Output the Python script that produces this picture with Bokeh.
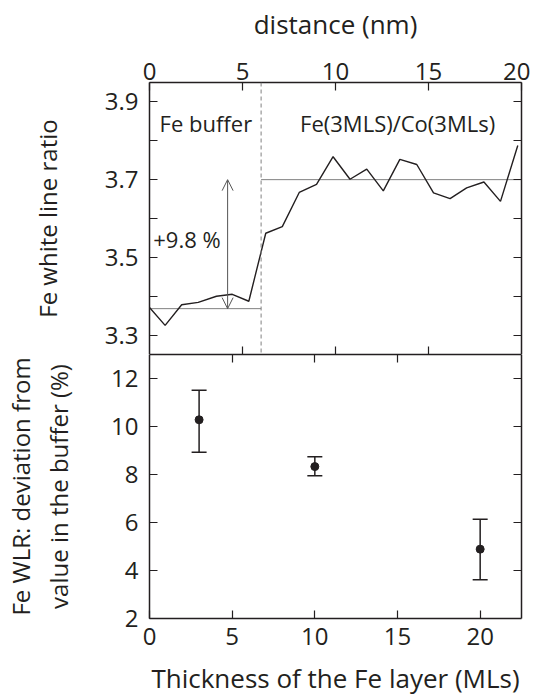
from bokeh.plotting import figure
from bokeh.models import (LinearAxis, Range1d, FixedTicker, Span, Arrow, OpenHead,
                          Label, Whisker, ColumnDataSource, TeeHead)
from bokeh.layouts import column
from bokeh.embed import file_html
from bokeh.resources import INLINE

# ---------------- data ----------------
distance_nm = [0.0, 0.84, 1.73, 2.62, 3.6, 4.45, 5.34, 6.25, 7.14, 8.05, 8.98, 9.87,
               10.78, 11.68, 12.57, 13.46, 14.37, 15.27, 16.16, 17.05, 17.98, 18.87, 19.8]
white_line_ratio = [3.371, 3.325, 3.378, 3.384, 3.400, 3.405, 3.387, 3.562, 3.579, 3.667,
                    3.688, 3.759, 3.701, 3.727, 3.671, 3.752, 3.739, 3.666, 3.651, 3.679,
                    3.694, 3.644, 3.788]
interface_nm = 6.0
buffer_level = 3.368
film_level = 3.70
arrow_x = 4.2

thickness_ml = [3, 10, 20]
deviation_pct = [10.28, 8.33, 4.89]
deviation_low = [8.93, 7.95, 3.61]
deviation_high = [11.51, 8.74, 6.14]

top_x_ticks = [0, 5, 10, 15, 20]
top_y_ticks = [3.3, 3.5, 3.7, 3.9]
top_y_minor = [3.4, 3.6, 3.8]
bot_x_ticks = [0, 5, 10, 15, 20]
bot_y_ticks = [2, 4, 6, 8, 10, 12]

FONT = "Open Sans"
INK = "#231f20"
GREY = "#808080"
TICK_FS = "24px"
TITLE_FS = "26px"
YTITLE_FS = "24px"


def style_axis(ax):
    ax.axis_line_color = INK
    ax.axis_line_width = 1.5
    ax.major_tick_line_color = INK
    ax.major_tick_line_width = 1.2
    ax.minor_tick_line_color = INK
    ax.minor_tick_line_width = 1.2
    ax.major_tick_in = 8
    ax.major_tick_out = 0
    ax.minor_tick_in = 8
    ax.minor_tick_out = 0
    ax.major_label_text_font = FONT
    ax.major_label_text_color = INK
    ax.major_label_text_font_style = "normal"
    ax.major_label_text_font_size = TICK_FS
    ax.axis_label_text_font = FONT
    ax.axis_label_text_color = INK
    ax.axis_label_text_font_style = "normal"
    ax.axis_label_text_font_size = TITLE_FS


def tick_only_axis(ticks):
    # only minor ticks -> tick marks without any tick labels
    ax = LinearAxis(ticker=FixedTicker(ticks=[], minor_ticks=ticks))
    style_axis(ax)
    ax.major_label_standoff = 0
    return ax


# ---------------- top panel ----------------
p1 = figure(frame_width=372, frame_height=272,
            x_range=Range1d(0, 20), y_range=Range1d(3.25, 3.95),
            x_axis_location="above", output_backend="svg", toolbar_location=None,
            min_border_left=143, min_border_right=15, min_border_top=82, min_border_bottom=0)
p1.grid.visible = False
p1.outline_line_color = None

xa = p1.xaxis[0]
style_axis(xa)
xa.ticker = FixedTicker(ticks=top_x_ticks, minor_ticks=[])
xa.axis_label = "distance (nm)"
xa.major_label_standoff = 3
xa.axis_label_standoff = 18

ya = p1.yaxis[0]
style_axis(ya)
ya.ticker = FixedTicker(ticks=top_y_ticks, minor_ticks=top_y_minor)
ya.axis_label = "Fe white line ratio"
ya.axis_label_text_font_size = YTITLE_FS
ya.major_label_standoff = 11
ya.axis_label_standoff = 38

p1.add_layout(tick_only_axis([5, 10, 15]), "below")
p1.add_layout(tick_only_axis(top_y_ticks + top_y_minor), "right")

p1.add_layout(Span(location=interface_nm, dimension="height", line_color=GREY,
                   line_width=1, line_dash="4 3"))
p1.segment(x0=[0, interface_nm], y0=[buffer_level, film_level],
           x1=[interface_nm, 20], y1=[buffer_level, film_level],
           line_color=GREY, line_width=1)
p1.line(distance_nm, white_line_ratio, line_color=INK, line_width=1.4)
p1.add_layout(Arrow(x_start=arrow_x, y_start=buffer_level, x_end=arrow_x, y_end=film_level,
                    line_color="#555555", line_width=1,
                    start=OpenHead(size=11, line_color="#555555", line_width=1),
                    end=OpenHead(size=11, line_color="#555555", line_width=1)))

for txt, x, y, align in [("Fe buffer", 3.03, 3.845, "center"),
                         ("Fe(3MLS)/Co(3MLs)", 13.34, 3.845, "center"),
                         ("+9.8 %", 0.2, 3.546, "left")]:
    p1.add_layout(Label(x=x, y=y, text=txt, text_align=align, text_baseline="middle",
                        text_font=FONT, text_font_size="22px", text_color=INK))

# ---------------- bottom panel ----------------
p2 = figure(frame_width=372, frame_height=264,
            x_range=Range1d(0, 22.5), y_range=Range1d(2, 13),
            output_backend="svg", toolbar_location=None,
            min_border_left=143, min_border_right=15, min_border_top=0, min_border_bottom=72)
p2.grid.visible = False
p2.outline_line_color = None

xa2 = p2.xaxis[0]
style_axis(xa2)
xa2.ticker = FixedTicker(ticks=bot_x_ticks, minor_ticks=[])
xa2.axis_label = "Thickness of the Fe layer (MLs)"
xa2.major_label_standoff = 9
xa2.axis_label_standoff = 12

ya2 = p2.yaxis[0]
style_axis(ya2)
ya2.ticker = FixedTicker(ticks=bot_y_ticks, minor_ticks=[])
ya2.axis_label = "value in the buffer (%)"
ya2.axis_label_text_font_size = YTITLE_FS
ya2.major_label_standoff = 11
ya2.axis_label_standoff = 33

ya3 = LinearAxis(ticker=FixedTicker(ticks=[], minor_ticks=[]),
                 axis_label="Fe WLR: deviation from")
style_axis(ya3)
ya3.axis_label_text_font_size = YTITLE_FS
ya3.axis_line_color = None
ya3.major_label_standoff = 0
ya3.axis_label_standoff = 3
p2.add_layout(ya3, "left")

p2.add_layout(tick_only_axis([5, 10, 15]), "above")
p2.add_layout(tick_only_axis([4, 6, 8, 10, 12]), "right")

src = ColumnDataSource(dict(x=thickness_ml, y=deviation_pct,
                            lo=deviation_low, hi=deviation_high))
p2.add_layout(Whisker(source=src, base="x", lower="lo", upper="hi",
                      line_color=INK, line_width=1.5,
                      lower_head=TeeHead(size=15, line_color=INK, line_width=1.5),
                      upper_head=TeeHead(size=15, line_color=INK, line_width=1.5)))
p2.scatter("x", "y", source=src, size=8, color=INK)

layout = column(p1, p2, spacing=0)
open("out.html", "w").write(file_html(layout, INLINE))
